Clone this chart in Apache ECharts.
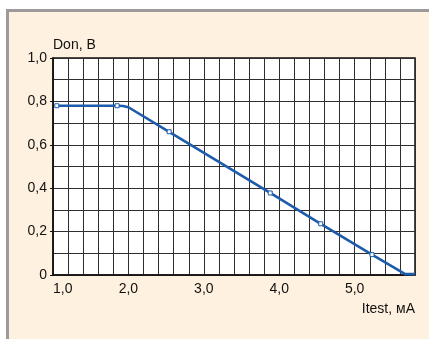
<!DOCTYPE html>
<html>
<head>
<meta charset="utf-8">
<script src="https://cdn.jsdelivr.net/npm/echarts@6/dist/echarts.min.js"></script>
<style>
  html, body { margin: 0; padding: 0; background: #ffffff; }
  #chart { width: 429px; height: 339px; }
</style>
</head>
<body>
<div id="chart"></div>
<script>
// Forward voltage Don (V) versus test current Itest (mA)
const currentMA = [1.05, 1.85, 1.93, 2.0, 2.54, 3.88, 4.55, 5.23, 5.67, 5.8];
const voltageV  = [0.78, 0.78, 0.779, 0.773, 0.66, 0.378, 0.236, 0.094, 0.004, 0.004];
// which points carry a small square marker
const marked    = [true, true, false, false, true, true, true, true, false, false];

const xTickLabels = ['1,0', '2,0', '3,0', '4,0', '5,0'];
const yTickLabels = ['0', '0,2', '0,4', '0,6', '0,8', '1,0'];

const FONT = '"Liberation Sans", Arial, sans-serif';
const INK = '#111111';
const LINE_BLUE = '#1d5cab';

const seriesData = currentMA.map((x, i) => {
  const item = { value: [x, voltageV[i]] };
  if (marked[i]) {
    item.symbol = 'rect';
    item.symbolSize = 4;
  } else {
    item.symbol = 'none';
  }
  return item;
});

function isNear(v, step) {
  const k = Math.round(v / step);
  return Math.abs(v - k * step) < 1e-6;
}

const chart = echarts.init(document.getElementById('chart'), null, { renderer: 'canvas' });

chart.setOption({
  animation: false,
  backgroundColor: '#ffffff',
  textStyle: { fontFamily: FONT },
  graphic: [{
    type: 'rect',
    z: -10,
    silent: true,
    shape: { x: 7.5, y: 10.5, width: 440, height: 350 },
    style: { fill: '#fff1df', stroke: '#9b9b9b', lineWidth: 3 }
  }],
  grid: {
    left: 53, top: 58, right: 14, bottom: 64,
    show: true,
    backgroundColor: '#ffffff',
    borderColor: '#111111',
    borderWidth: 1.5
  },
  xAxis: {
    type: 'value',
    min: 1.0, max: 5.8, interval: 0.2,
    name: 'Itest, мА',
    nameLocation: 'end',
    nameGap: 0,
    nameTextStyle: {
      fontFamily: FONT, fontSize: 14, color: INK,
      align: 'right', verticalAlign: 'top', padding: [27, 0, 0, 0]
    },
    axisLine: { show: true, lineStyle: { color: INK, width: 1.5 } },
    axisTick: { show: false },
    axisLabel: {
      fontFamily: FONT, fontSize: 14, color: INK, margin: 7,
      alignMinLabel: 'left',
      showMaxLabel: false,
      formatter: v => {
        if (!isNear(v, 1)) return '';
        const idx = Math.round(v) - 1;
        return xTickLabels[idx] !== undefined ? xTickLabels[idx] : '';
      }
    },
    splitLine: { show: true, lineStyle: { color: '#2e2e2e', width: 1 } }
  },
  yAxis: [{
    type: 'value',
    min: 0, max: 1.0, interval: 0.1,
    name: 'Don, B',
    nameLocation: 'end',
    nameGap: 6,
    nameTextStyle: {
      fontFamily: FONT, fontSize: 14, color: INK,
      align: 'left', verticalAlign: 'bottom'
    },
    axisLine: { show: true, lineStyle: { color: INK, width: 1.5 } },
    axisTick: { show: false },
    axisLabel: { show: false },
    splitLine: { show: true, lineStyle: { color: '#2e2e2e', width: 1 } }
  }, {
    type: 'value',
    position: 'left',
    min: 0, max: 1.0, interval: 0.2,
    axisLine: { show: false },
    axisTick: { show: true, length: 3, lineStyle: { color: INK, width: 1 } },
    axisLabel: {
      fontFamily: FONT, fontSize: 14, color: INK, margin: 6,
      formatter: v => {
        const idx = Math.round(v / 0.2);
        return yTickLabels[idx] !== undefined ? yTickLabels[idx] : '';
      }
    },
    splitLine: { show: false }
  }],
  series: [{
    type: 'line',
    yAxisIndex: 0,
    data: seriesData,
    smooth: false,
    showSymbol: true,
    symbol: 'none',
    lineStyle: { color: LINE_BLUE, width: 2.6, join: 'round' },
    itemStyle: { color: '#ffffff', borderColor: LINE_BLUE, borderWidth: 1 },
    z: 5
  }]
});
</script>
</body>
</html>
